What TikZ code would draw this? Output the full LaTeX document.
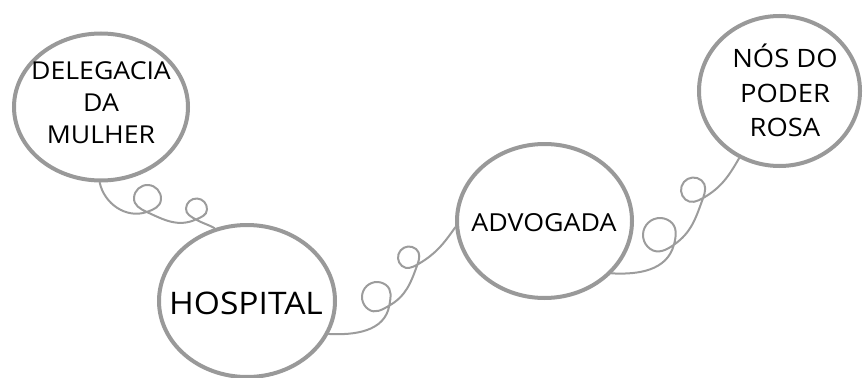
\documentclass[tikz,border=0pt]{standalone}
\usepackage{fontspec}
\setmainfont{Open Sans}[FakeStretch=1.08]
\usetikzlibrary{shapes.geometric,calc}
\definecolor{ring}{HTML}{999999}
\definecolor{curlc}{HTML}{9C9C9C}
% entry into a loop: previous heading, centre, radius, direction, half crossing angle
\newcommand\curlin[5]{%
  to[out=#1,in=#4+#5+180] ($(#2)+(#4-90:#3)$)}
% the loop itself (counter-clockwise); it leaves its bottom point heading direction-angle
\newcommand\curlloop[4]{%
  to[out=#3+#4,in=#3+270] ($(#1)+(#3:#2)$)
  to[out=#3+90,in=#3] ($(#1)+(#3+90:#2)$)
  to[out=#3+180,in=#3+90] ($(#1)+(#3+180:#2)$)
  to[out=#3+270,in=#3-#4+180] ($(#1)+(#3-90:#2)$)}
\begin{document}
\begin{tikzpicture}[x=0.75pt,y=0.75pt,
  bubble/.style={ellipse,draw=ring,line width=3pt,inner sep=0pt},
  conn/.style={draw=curlc,line width=1.5pt,line cap=round},
  lbl/.style={inner sep=0pt,align=center,text=black}]
\useasboundingbox (0,0) rectangle (863,-378);
% bubbles
\node[bubble,minimum width=130.5pt,minimum height=110.25pt] (del) at (101,-107) {};
\node[bubble,minimum width=132pt,minimum height=114pt] (hos) at (247,-301) {};
\node[bubble,minimum width=131.25pt,minimum height=115.5pt] (adv) at (544.5,-221) {};
\node[bubble,minimum width=120.75pt,minimum height=112.5pt] (nos) at (779.5,-91) {};
% labels
\node[lbl,font=\fontsize{18.5}{24}\selectfont] (delt) at (101,-102.5) {DELEGACIA\\DA\\MULHER};
\node[lbl,font=\fontsize{23.3}{26}\selectfont] (host) at (246,-303.5) {HOSPITAL};
\node[lbl,font=\fontsize{18.6}{24}\selectfont] (advt) at (544,-222.5) {ADVOGADA};
\node[lbl,font=\fontsize{19}{25.9}\selectfont] (nost) at (785,-90.5) {NÓS DO\\PODER\\ROSA};
% loop centres
\coordinate (c11) at (147.5,-198.5);
\coordinate (c12) at (196.5,-209);
\coordinate (c21) at (377,-297);
\coordinate (c22) at (409,-257.5);
\coordinate (c31) at (660,-235);
\coordinate (c32) at (693.5,-190);
% connectors
\draw[conn] (del.-91) \curlin{-78}{c11}{13.5}{-3}{22} \curlloop{c11}{13.5}{-3}{22}
  \curlin{-25}{c12}{10.5}{-3}{27} \curlloop{c12}{10.5}{-3}{27}
  to[out=-30,in=150] (hos.114);
\draw[conn] (hos.-22) \curlin{-3}{c21}{15}{55}{25} \curlloop{c21}{15}{55}{25}
  \curlin{30}{c22}{11}{50}{20} \curlloop{c22}{11}{50}{20}
  to[out=30,in=235] (adv.184);
\draw[conn] (adv.-38) \curlin{-3}{c31}{17}{55}{20} \curlloop{c31}{17}{55}{20}
  \curlin{35}{c32}{12.5}{50}{20} \curlloop{c32}{12.5}{50}{20}
  to[out=30,in=240] (nos.239);
\end{tikzpicture}
\end{document}
